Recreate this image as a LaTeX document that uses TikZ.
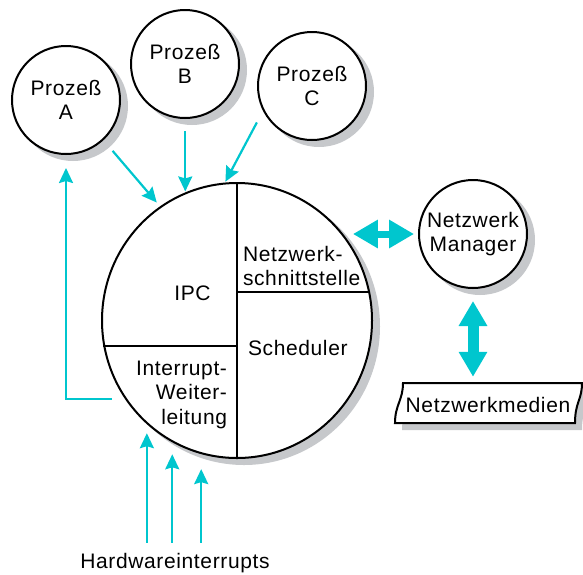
\documentclass[tikz,border=0pt]{standalone}
\usepackage{fontspec}
\setmainfont{Liberation Sans}[LetterSpace=3]
\usetikzlibrary{arrows.meta,shapes.geometric}
\definecolor{flowcyan}{RGB}{0,198,206}
\definecolor{backgrey}{RGB}{198,200,203}
\begin{document}
\begin{tikzpicture}[x=1pt,y=-1pt,line width=2pt,font=\fontsize{21}{24.5}\selectfont,
                underlay/.style={fill=backgrey},
                proc/.style={circle,draw,fill=white,minimum size=108pt,inner sep=0pt,align=center},
                lbl/.style={inner sep=0pt},
                flow/.style={draw=flowcyan,line width=2.2pt,-{Stealth[inset=2pt,width=14pt,length=15pt]}},
                bigflow/.style={draw=flowcyan,{Triangle[width=27pt,length=25pt]}-{Triangle[width=27pt,length=25pt]}}]
                \useasboundingbox (0,0) rectangle (583,574);

                \foreach \x/\y in {73/106,192/70,319/92,480/240} \fill[underlay] (\x,\y) circle[radius=55];
                \fill[underlay] (244,326.5) ellipse[x radius=136, y radius=138.5];
                \fill[underlay] (410,390) -- (589,390) .. controls (589,407) and (582,409) .. (582,430) -- (402,430) .. controls (402,412) and (410,407) .. (410,390) -- cycle;

                \node[proc] (A) at (66,100) {Prozeß\\A};
                \node[proc] (B) at (185,64) {Prozeß\\B};
                \node[proc] (C) at (312,86) {Prozeß\\C};
                \node[proc] (mgr) at (473,234) {Netzwerk\\Manager};
                \node[ellipse,draw,fill=white,minimum width=270pt,minimum height=275pt,inner sep=0pt] (core) at (237,320.5) {};
                \draw (core.north) -- (core.south);
                \draw (core.191) -- (core.191 -| core.north); \draw (core.12) -- (core.12 -| core.north);

                \node[lbl,anchor=base] (ipc) at (192.5,300) {IPC};
                \node[lbl,anchor=north west,align=left] (nws) at (242,245) {Netzwerk-\\schnittstelle};
                \node[lbl,anchor=base west] (sched) at (247,355) {Scheduler};
                \node[lbl,anchor=north east,align=right] (irq) at (228,360) {Interrupt-\\Weiter-\\leitung};

                \draw[fill=white] (403,383) -- (582,383) .. controls (582,400) and (575,402) .. (575,423) -- (395,423) .. controls (395,405) and (403,400) .. (403,383) -- cycle;
                \node[lbl] (medien) at (488,404.5) {Netzwerkmedien};
                \node[lbl] (hw) at (175,562.7) {Hardwareinterrupts};

                \draw[flow,shorten <=14pt,shorten >=5pt] (A.-47) -- (core.124);
                \draw[flow,shorten <=12pt,shorten >=1pt] (B.south -| core.112) -- (core.112);
                \draw[flow,shorten <=13pt,shorten >=1pt] (C.207) -- (core.95);
                \draw[flow,shorten <=13pt,shorten >=13pt] (core.215) -| (A.south);
                \foreach \ang/\gap in {229/9pt,242/12pt,255/15pt}
                    \draw[flow,shorten <=9pt,shorten >=\gap] (core.\ang |- hw.north) -- (core.\ang);
                \draw[bigflow,line width=7pt,shorten <=11pt,shorten >=4pt] (core.40 |- mgr.west) -- (mgr.west);
                \draw[bigflow,line width=11pt,shorten <=12pt,shorten >=19pt] (mgr.south) -- (mgr.south |- medien.north);
            \end{tikzpicture}
\end{document}
